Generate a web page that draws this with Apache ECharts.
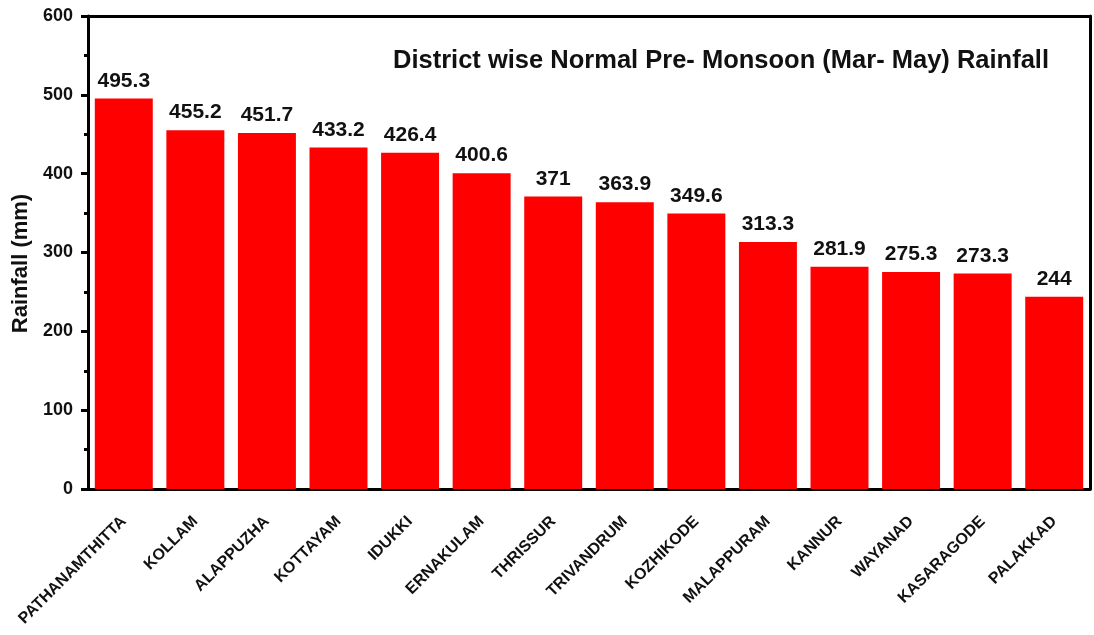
<!DOCTYPE html>
<html lang="en">
<head>
    <meta charset="UTF-8">
    <title>District wise Normal Pre- Monsoon Rainfall</title>
    <style>
        body { margin: 0; overflow: hidden; background: #fff; }
        #chart { width: 1094px; height: 635px; }
    </style>
</head>
<body>
    <div id="chart"></div>
    <script src="https://cdn.jsdelivr.net/npm/echarts@6/dist/echarts.min.js"></script>
    <script>
        var districts = ['PATHANAMTHITTA', 'KOLLAM', 'ALAPPUZHA', 'KOTTAYAM', 'IDUKKI', 'ERNAKULAM', 'THRISSUR',
            'TRIVANDRUM', 'KOZHIKODE', 'MALAPPURAM', 'KANNUR', 'WAYANAD', 'KASARAGODE', 'PALAKKAD'];
        var rainfall = [495.3, 455.2, 451.7, 433.2, 426.4, 400.6, 371, 363.9, 349.6, 313.3, 281.9, 275.3, 273.3, 244];

        var font = 'Liberation Sans, Arial, sans-serif';
        var myChart = echarts.init(document.getElementById('chart'));

        var option = {
            animation: false,
            title: {
                text: 'District wise Normal Pre- Monsoon (Mar- May) Rainfall',
                left: 388,
                top: 43,
                textStyle: { fontFamily: font, fontWeight: 'bold', fontSize: 25.5, color: '#111' }
            },
            grid: { left: 88, right: 4, top: 16, bottom: 146 },
            xAxis: [{
                type: 'category',
                data: districts,
                axisLine: { lineStyle: { color: '#000', width: 3 } },
                axisTick: { alignWithLabel: true, length: 8, lineStyle: { color: '#000', width: 3 } },
                axisLabel: {
                    interval: 0, rotate: 45, margin: 30,
                    fontFamily: font, fontWeight: 'bold', fontSize: 16, color: '#111'
                }
            }, {
                type: 'category',
                position: 'top',
                data: districts,
                axisLine: { onZero: false, lineStyle: { color: '#000', width: 3 } },
                axisTick: { show: false },
                axisLabel: { show: false }
            }],
            yAxis: [{
                type: 'value',
                min: 0, max: 600, interval: 100,
                name: 'Rainfall (mm)',
                nameLocation: 'middle',
                nameGap: 56,
                nameTextStyle: {
                    fontFamily: font, fontWeight: 'bold', fontSize: 22, color: '#111',
                    padding: [0, 22, 0, 0]
                },
                axisLine: { show: true, lineStyle: { color: '#000', width: 3 } },
                axisTick: { show: true, length: 7, lineStyle: { color: '#000', width: 3 } },
                minorTick: { show: true, splitNumber: 2, length: 4, lineStyle: { color: '#000', width: 3 } },
                splitLine: { show: false },
                axisLabel: { margin: 15, fontFamily: font, fontWeight: 'bold', fontSize: 18, color: '#111' }
            }, {
                type: 'value',
                position: 'right',
                min: 0, max: 600,
                axisLine: { show: true, onZero: false, lineStyle: { color: '#000', width: 3 } },
                axisTick: { show: false },
                axisLabel: { show: false },
                splitLine: { show: false }
            }],
            series: [{
                type: 'bar',
                data: rainfall,
                barCategoryGap: '19%',
                itemStyle: { color: '#ff0000' },
                label: {
                    show: true, position: 'top', distance: 7,
                    fontFamily: font, fontWeight: 'bold', fontSize: 21, color: '#111'
                }
            }]
        };

        myChart.setOption(option);
    </script>
</body>
</html>
